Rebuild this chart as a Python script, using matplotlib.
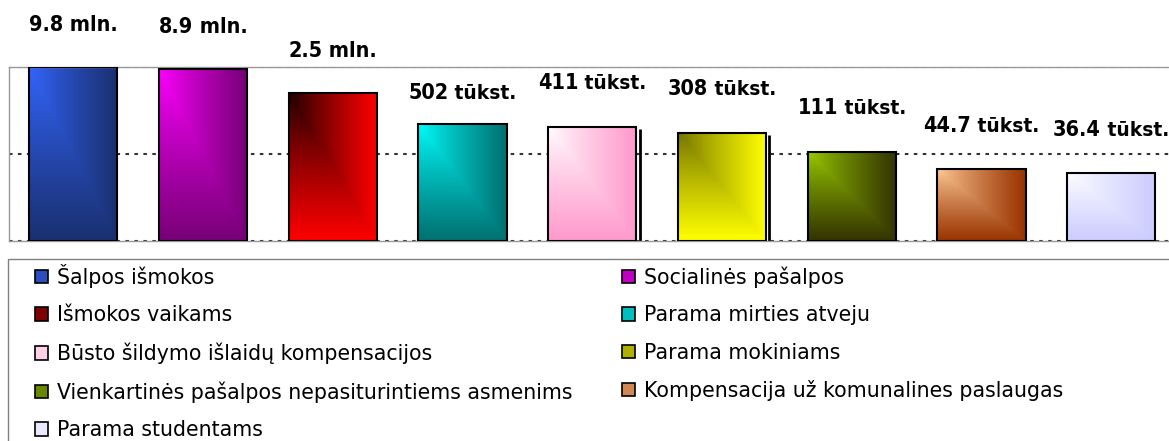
import matplotlib
matplotlib.use("Agg")
import matplotlib.pyplot as plt
import numpy as np
from matplotlib.colors import to_rgb
from matplotlib.patches import Patch, Rectangle
from matplotlib.offsetbox import TextArea, HPacker, AnnotationBbox

# data
categories = ["Šalpos išmokos", "Socialinės pašalpos", "Išmokos vaikams",
              "Parama mirties atveju", "Būsto šildymo išlaidų kompensacijos",
              "Parama mokiniams", "Vienkartinės pašalpos nepasiturintiems asmenims",
              "Kompensacija už komunalines paslaugas", "Parama studentams"]
values = [9.8e6, 8.9e6, 2.5e6, 502e3, 411e3, 308e3, 111e3, 44.7e3, 36.4e3]
label_nums = ["9.8", "8.9", "2.5", "502", "411", "308", "111", "44.7", "36.4"]
label_units = ["mln.", "mln.", "mln.", "tūkst.", "tūkst.", "tūkst.", "tūkst.", "tūkst.", "tūkst."]

# gradient colours: (top-left corner, far side)
grad_start = ["#3366ff", "#ff00ff", "#1a0000", "#00ffff", "#ffffff",
              "#707000", "#99cc00", "#ffcc99", "#ffffff"]
grad_end = ["#1a3070", "#770077", "#ff0000", "#007070", "#ff99cc",
            "#ffff00", "#333300", "#993300", "#ccccff"]
label_gap = [23.5, 23.5, 23.5, 15, 24.5, 24, 24.5, 24, 24]   # points above bar top

W, H = 1169, 441
fig = plt.figure(figsize=(W / 100, H / 100), dpi=100)
ax = fig.add_axes([8.5 / W, 1 - 241 / H, (1176 - 8.5) / W, (241 - 67) / H])
ax.set_yscale("log")

x = np.arange(len(values))
bw = 0.68
bottom = 1e3
xlim = (-0.5, len(values) - 0.5)
ylim = (1e3, 1e7)
ax.set_xlim(*xlim)
ax.set_ylim(*ylim)

u = np.linspace(0, 1, 80)[None, :]
v = np.linspace(0, 1, 160)[:, None]
t = np.clip(np.maximum(u, v), 0, 1) ** 0.85

# gradient fill of each bar, placed in axes coords through the log scale
to_axes = ax.transScale + ax.transLimits
for i, val in enumerate(values):
    c1 = np.array(to_rgb(grad_start[i]))
    c2 = np.array(to_rgb(grad_end[i]))
    img = c1[None, None, :] * (1 - t[..., None]) + c2[None, None, :] * t[..., None]
    x0, y0 = to_axes.transform((i - bw / 2, bottom))
    x1, y1 = to_axes.transform((i + bw / 2, val))
    ax.imshow(img, extent=(x0, x1, y0, y1), transform=ax.transAxes, origin="upper",
              aspect="auto", zorder=2, interpolation="bilinear")

ax.bar(x, np.array(values) - bottom, bottom=bottom, width=bw, facecolor="none",
       edgecolor="black", linewidth=1.5, zorder=3)

# small shadow lines seen right of two bars
for i in (4, 5):
    ax.vlines(i + bw / 2 + 0.025, bottom, values[i] * 0.9, color="black", lw=2, zorder=1)

for i, val in enumerate(values):
    if label_units[i] == "mln.":
        uprops = dict(fontsize=15.5, fontweight="bold", fontstretch="condensed")
    else:
        uprops = dict(fontsize=13.5, fontweight="bold")
    num = TextArea(label_nums[i], textprops=dict(fontsize=15.5, fontweight="bold",
                                                 fontstretch="condensed"))
    unit = TextArea(" " + label_units[i], textprops=uprops)
    box = HPacker(children=[num, unit], align="baseline", pad=0, sep=0)
    ab = AnnotationBbox(box, (i, val), xybox=(0, label_gap[i]), xycoords="data",
                        boxcoords="offset points", box_alignment=(0.5, 0),
                        frameon=False, annotation_clip=False)
    ax.add_artist(ab)

ax.set_xlim(*xlim)
ax.set_ylim(*ylim)
ax.set_yticks([1e3, 1e5, 1e7])
ax.yaxis.set_minor_locator(matplotlib.ticker.NullLocator())
ax.tick_params(left=False, bottom=False, labelleft=False, labelbottom=False)
ax.set_xticks([])
ax.grid(axis="y", color="#333333", linestyle=(0, (1.7, 2.6)), linewidth=1.5, zorder=0)
ax.set_axisbelow(True)
for s in ax.spines.values():
    s.set_color("#999999")
    s.set_linewidth(1)

# legend, filled row by row like the original
mix = [np.array(to_rgb(a)) * 0.55 + np.array(to_rgb(b)) * 0.45 for a, b in zip(grad_start, grad_end)]
handles = [Patch(facecolor=mix[i], edgecolor="black", linewidth=1.2) for i in range(len(values))]
order = [0, 2, 4, 6, 8, 1, 3, 5, 7]
fig.legend([handles[i] for i in order], [categories[i] for i in order],
           loc="upper left", bbox_to_anchor=(35 / W, 1 - 264 / H), ncol=2,
           frameon=False, prop={"family": "DejaVu Sans", "size": 14.8},
           handlelength=0.63, handleheight=0.63, handletextpad=0.45,
           labelspacing=0.84, columnspacing=2.4, borderaxespad=0, borderpad=0)
fig.add_artist(Rectangle((8 / W, -0.1), 1.2, 0.1 + 1 - 259 / H, transform=fig.transFigure,
                         facecolor="none", edgecolor="#808080", linewidth=1))

fig.savefig("out.png", dpi=100)
